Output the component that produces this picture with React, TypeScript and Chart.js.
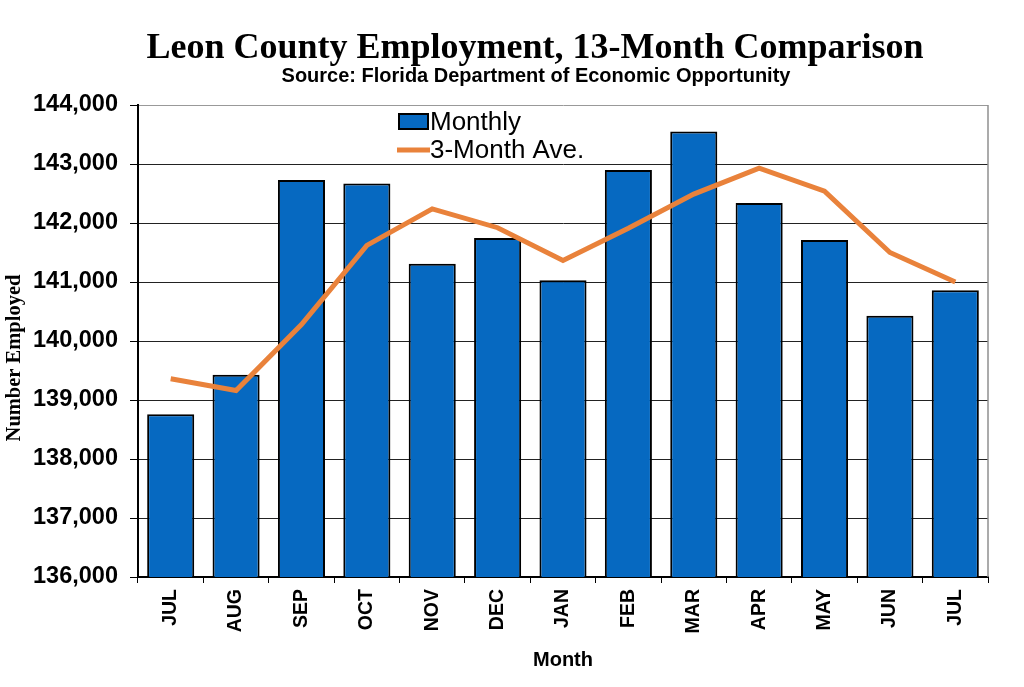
import React, { useEffect, useRef } from "react";
import { Chart, registerables } from "chart.js";

Chart.register(...registerables);

const months = ["JUL", "AUG", "SEP", "OCT", "NOV", "DEC", "JAN", "FEB", "MAR", "APR", "MAY", "JUN", "JUL"];
const monthly = [138760, 139430, 142730, 142670, 141310, 141745, 141030, 142900, 143550, 142340, 141710, 140430, 140860];
const threeMonthAve = [139360, 139160, 140280, 141620, 142240, 141920, 141365, 141910, 142490, 142930, 142540, 141500, 141000];
const yMin = 136000;
const yMax = 144000;
const yStep = 1000;

const titleText = "Leon County Employment, 13-Month Comparison";
const subtitleText = "Source: Florida Department of Economic Opportunity";
const yAxisTitle = "Number Employed";
const xAxisTitle = "Month";
const seriesNames = ["Monthly", "3-Month Ave."];

const BAR_BLUE = "#0669C1";
const LINE_ORANGE = "#E9823B";
const SANS = '"Liberation Sans", Arial, sans-serif';
const SERIF = '"Liberation Serif", "Times New Roman", serif';

const overlayPlugin = {
  id: "overlay",
  afterDraw(chart: any) {
    const { ctx, chartArea } = chart;
    ctx.save();
    // right border of the plot
    ctx.strokeStyle = "#8f8f8f";
    ctx.lineWidth = 1.5;
    ctx.beginPath();
    ctx.moveTo(chartArea.right, chartArea.top);
    ctx.lineTo(chartArea.right, chartArea.bottom);
    ctx.stroke();

    // title & subtitle
    ctx.fillStyle = "#000";
    ctx.textAlign = "center";
    ctx.textBaseline = "alphabetic";
    ctx.font = `bold 36px ${SERIF}`;
    ctx.fillText(titleText, 535, 58);
    ctx.font = `bold 20px ${SANS}`;
    ctx.fillText(subtitleText, 536, 82);

    // y axis title
    ctx.save();
    ctx.translate(15, 358);
    ctx.rotate(-Math.PI / 2);
    ctx.font = `bold 20.5px ${SERIF}`;
    ctx.textBaseline = "middle";
    ctx.fillText(yAxisTitle, 0, 0);
    ctx.restore();

    // legend
    ctx.fillStyle = BAR_BLUE;
    ctx.fillRect(399, 114, 29, 15);
    ctx.strokeStyle = "#000";
    ctx.lineWidth = 2;
    ctx.strokeRect(399, 114, 29, 15);
    ctx.strokeStyle = LINE_ORANGE;
    ctx.lineWidth = 5;
    ctx.beginPath();
    ctx.moveTo(397, 150);
    ctx.lineTo(430, 150);
    ctx.stroke();
    ctx.fillStyle = "#000";
    ctx.textAlign = "left";
    ctx.font = `26px ${SANS}`;
    ctx.fillText(seriesNames[0], 430, 130);
    ctx.fillText(seriesNames[1], 430, 158);
    ctx.restore();
  },
};

export default function App() {
  const canvasRef = useRef<HTMLCanvasElement | null>(null);

  useEffect(() => {
    if (!canvasRef.current) return;
    const chart = new Chart(canvasRef.current, {
      type: "bar",
      data: {
        labels: months,
        datasets: [
          {
            type: "line",
            label: seriesNames[1],
            data: threeMonthAve,
            borderColor: LINE_ORANGE,
            backgroundColor: LINE_ORANGE,
            borderWidth: 5,
            pointRadius: 0,
            tension: 0,
            order: 0,
          } as any,
          {
            type: "bar",
            label: seriesNames[0],
            data: monthly,
            backgroundColor: BAR_BLUE,
            borderColor: "#000",
            borderWidth: 2,
            borderSkipped: false,
            barPercentage: 0.72,
            categoryPercentage: 1.0,
            order: 1,
          } as any,
        ],
      },
      options: {
        animation: false,
        responsive: true,
        maintainAspectRatio: false,
        layout: { padding: { top: 105, right: 36, bottom: 0, left: 0 } },
        plugins: {
          legend: { display: false },
          title: { display: false },
          tooltip: { enabled: false },
        },
        scales: {
          x: {
            offset: true,
            grid: {
              offset: true,
              drawOnChartArea: false,
              drawTicks: true,
              tickLength: 6,
              color: "#000",
              tickColor: "#000",
            },
            border: { color: "#000", width: 2 },
            ticks: {
              minRotation: 90,
              maxRotation: 90,
              padding: 6,
              color: "#000",
              font: { family: SANS, size: 19.5, weight: "bold" },
            },
            title: {
              display: true,
              text: xAxisTitle,
              color: "#000",
              font: { family: SANS, size: 20, weight: "bold" },
              padding: { top: 4, bottom: 15 },
            },
            afterFit: (scale: any) => {
              scale.height = 110;
            },
          },
          y: {
            min: yMin,
            max: yMax,
            ticks: {
              stepSize: yStep,
              padding: 12,
              color: "#000",
              font: { family: SANS, size: 23.5, weight: "bold" },
              callback: (v: any) => Number(v).toLocaleString("en-US"),
            },
            grid: {
              color: (c: any) => (c.tick && c.tick.value === yMax ? "#999" : "#222"),
              lineWidth: 1,
              tickLength: 8,
              tickColor: "#000",
            },
            border: { color: "#000", width: 2 },
            afterFit: (scale: any) => {
              scale.width = 138;
            },
          },
        },
      },
      plugins: [overlayPlugin],
    });
    return () => chart.destroy();
  }, []);

  return (
    <div style={{ position: "fixed", left: 0, top: 0, width: 1024, height: 687, background: "#fff" }}>
      <canvas ref={canvasRef} style={{ display: "block" }} />
    </div>
  );
}
